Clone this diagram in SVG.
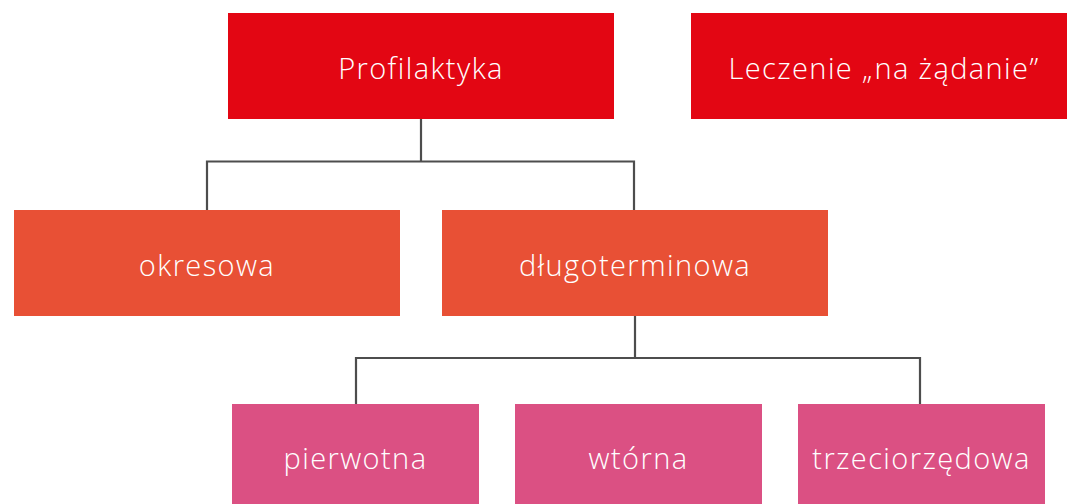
<svg xmlns="http://www.w3.org/2000/svg" width="1068" height="504" viewBox="0 0 1068 504">
<style>
.red{fill:#E30613}.orange{fill:#E85035}.pink{fill:#DB5083}
text{font-family:"Open Sans","Liberation Sans",sans-serif;font-size:29px;font-weight:300;letter-spacing:1.4px;fill:#fff;text-anchor:middle;dominant-baseline:central}
.conn{fill:none;stroke:#4d4d4d;stroke-width:2.2}
</style>
<rect width="1068" height="504" fill="#fff"/>
<g id="connectors" class="conn">
<path d="M421 118V161.5M207 210V161.5H634V210"/>
<path d="M635 315V358M356 404V358H920V404"/>
</g>
<g id="profilaktyka"><rect class="red" x="228" y="13" width="386" height="106"/><text x="421" y="67">Profilaktyka</text></g>
<g id="leczenie"><rect class="red" x="691" y="13" width="376" height="106"/><text x="884" y="67">Leczenie „na żądanie”</text></g>
<g id="okresowa"><rect class="orange" x="14" y="210" width="386" height="106"/><text x="207" y="264">okresowa</text></g>
<g id="dlugoterminowa"><rect class="orange" x="442" y="210" width="386" height="106"/><text x="635" y="264">długoterminowa</text></g>
<g id="pierwotna"><rect class="pink" x="232" y="404" width="247" height="100"/><text x="355.5" y="457">pierwotna</text></g>
<g id="wtorna"><rect class="pink" x="515" y="404" width="247" height="100"/><text x="638.5" y="457">wtórna</text></g>
<g id="trzeciorzedowa"><rect class="pink" x="798" y="404" width="247" height="100"/><text x="921.5" y="457">trzeciorzędowa</text></g>
</svg>
